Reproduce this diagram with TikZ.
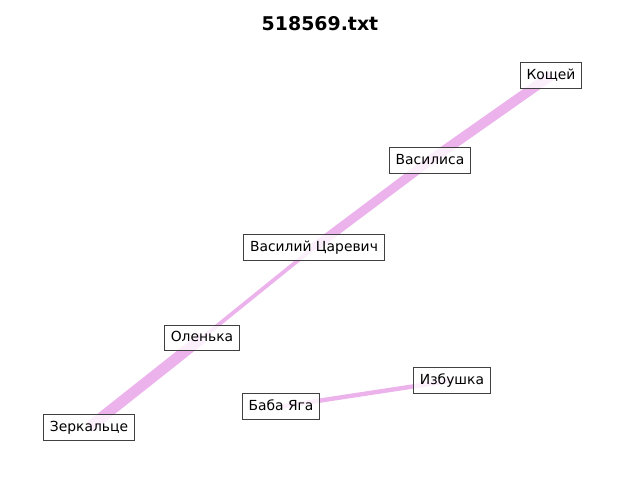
\documentclass[tikz,border=0pt]{standalone}
\usepackage{fontspec}
\setmainfont{DejaVu Sans}
\usetikzlibrary{backgrounds}
\definecolor{edgepink}{RGB}{236,178,236}
\definecolor{boxgray}{RGB}{64,64,64}

\begin{document}
\begin{tikzpicture}[x=0.75pt, y=-0.75pt,
        namebox/.style={draw=boxgray, line width=0.8pt, fill=white, fill opacity=0.8, text opacity=1, draw opacity=1,
            font=\fontsize{10.4}{12}\selectfont, inner xsep=4.6pt, minimum height=19.2pt, text height=7.8pt, text depth=2pt},
        tie/.style={draw=edgepink, line cap=butt}]
        \useasboundingbox (0, 0) rectangle (640, 480);

        \node[font=\bfseries\fontsize{14.2}{17}\selectfont] (title) at (320, 24) {518569.txt};

        % names
        \node[namebox] (koshchei)  at (551, 75.5)  {Кощей};
        \node[namebox] (vasilisa)  at (430, 160.5) {Василиса};
        \node[namebox] (vasiliy)   at (314, 247.5) {Василий Царевич};
        \node[namebox] (olenka)    at (202, 338)   {Оленька};
        \node[namebox] (zerkaltse) at (89, 427.5)  {Зеркальце};
        \node[namebox] (baba)      at (281, 406.5) {Баба Яга};
        \node[namebox] (izbushka)  at (452, 380.5) {Избушка};

        % ties
        \begin{pgfonlayer}{background}
            \draw[tie, line width=7.4pt] (koshchei.center) -- (vasilisa.center);
            \draw[tie, line width=6.8pt] (vasilisa.center) -- (vasiliy.center);
            \draw[tie, line width=2.9pt] (vasiliy.center) -- (olenka.center);
            \draw[tie, line width=8.2pt] (olenka.center) -- (zerkaltse.center);
            \draw[tie, line width=3.3pt] (baba.center) -- (izbushka.center);
        \end{pgfonlayer}

    \end{tikzpicture}
\end{document}
